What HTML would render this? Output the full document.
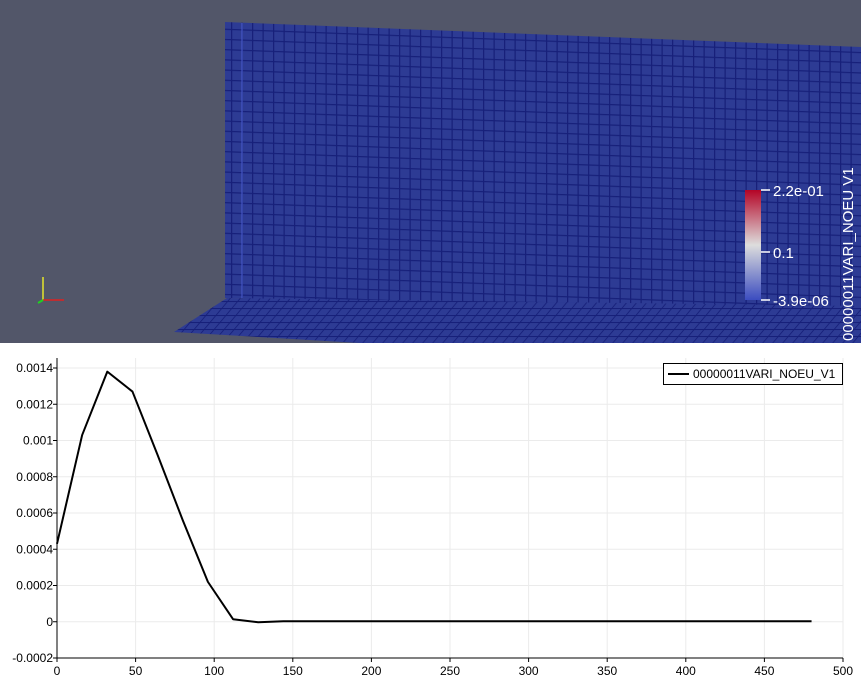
<!DOCTYPE html>
<html><head><meta charset="utf-8">
<style>
html,body{margin:0;padding:0;width:861px;height:686px;overflow:hidden;background:#fff;font-family:"Liberation Sans",sans-serif}
#view{position:absolute;left:0;top:0;width:861px;height:343px;background:#525669;overflow:hidden}
#chart{position:absolute;left:0;top:343px;width:861px;height:343px}
</style></head><body>
<div id="view">
<svg width="861" height="343">
<defs>
<pattern id="grid" width="10.5" height="10.2" patternUnits="userSpaceOnUse" patternTransform="skewY(2.1)">
<rect width="10.5" height="10.2" fill="#2d3b94"/>
<path d="M0 0.6H10.5M0.6 0V10.2" stroke="#17207a" stroke-width="1.3"/>
</pattern>
<pattern id="grid2" width="10" height="7" patternUnits="userSpaceOnUse" patternTransform="skewX(-40)">
<rect width="10" height="7" fill="#2d3b94"/>
<path d="M0 0.5H10M0.5 0V7" stroke="#17207a" stroke-width="1.3"/>
</pattern>
<linearGradient id="cbar" x1="0" y1="1" x2="0" y2="0">
<stop offset="0" stop-color="#3b4cc0"/><stop offset="0.5" stop-color="#dddddd"/><stop offset="1" stop-color="#b40426"/>
</linearGradient>
</defs>
<polygon points="225,22 861,47 861,310 225,298" fill="url(#grid)"/>
<polygon points="174,332 227,298 861,306 861,343 360,343" fill="url(#grid2)"/>
<line x1="242" y1="23" x2="242" y2="298" stroke="#4a5ed0" stroke-width="1"/>
<g>
<line x1="43" y1="300" x2="43" y2="277" stroke="#e5e52a" stroke-width="1.5"/>
<line x1="43" y1="300" x2="64" y2="300" stroke="#e02020" stroke-width="1.5"/>
<line x1="43" y1="300" x2="38" y2="303" stroke="#20d020" stroke-width="2"/>
</g>
<rect x="745" y="190" width="16" height="110" fill="url(#cbar)"/>
<g stroke="#fff" stroke-width="1.5"><line x1="761" y1="190" x2="770" y2="190"/><line x1="761" y1="252" x2="770" y2="252"/><line x1="761" y1="300" x2="770" y2="300"/></g>
<g fill="#fff" font-size="15">
<text x="773" y="196">2.2e-01</text>
<text x="773" y="258">0.1</text>
<text x="773" y="306">-3.9e-06</text>
<text transform="translate(853,341) rotate(-90)">00000011VARI_NOEU V1</text>
</g>
</svg>
</div>
<div id="chart">
<svg id="cs" width="861" height="343"></svg>
</div>
<script>
const xValues=[0,16,32,48,64,80,96,112,128,144,160,176,192,208,224,240,256,272,288,304,320,336,352,368,384,400,416,432,448,464,480];
const yValues=[0.00043,0.00103,0.00138,0.00127,0.00092,0.00056,0.00022,0.000014,-0.000003,0.000003,0.000003,0.000003,0.000003,0.000003,0.000003,0.000003,0.000003,0.000003,0.000003,0.000003,0.000003,0.000003,0.000003,0.000003,0.000003,0.000003,0.000003,0.000003,0.000003,0.000003,0.000003];
const xTicks=[0,50,100,150,200,250,300,350,400,450,500];
const yTicks=[-0.0002,0,0.0002,0.0004,0.0006,0.0008,0.001,0.0012,0.0014];
const yTickLabels=["-0.0002","0","0.0002","0.0004","0.0006","0.0008","0.001","0.0012","0.0014"];
const seriesName="00000011VARI_NOEU_V1";
const NS="http://www.w3.org/2000/svg";
const svg=document.getElementById('cs');
const X0=57,X1=843,Y0=315,Y1=25;
function sx(v){return X0+(v-0)/(500-0)*(X1-X0);}
function sy(v){return Y0-(v+0.0002)/(0.0016)*(Y0-Y1);}
function mk(t,a,p){const e=document.createElementNS(NS,t);for(const k in a)e.setAttribute(k,a[k]);(p||svg).appendChild(e);return e;}
xTicks.forEach(t=>{const l=mk('line',{x1:sx(t),x2:sx(t),y1:Y1-10,y2:Y0,stroke:'#ebebeb'});


const tk=mk('line',{x1:sx(t),x2:sx(t),y1:Y0,y2:Y0+4,stroke:'#000'});


const tx=mk('text',{x:sx(t),y:Y0+17,'text-anchor':'middle','font-size':'12',fill:'#000'});tx.textContent=t;

});
yTicks.forEach((t,i)=>{const l=mk('line',{x1:X0,x2:X1,y1:sy(t),y2:sy(t),stroke:'#ebebeb'});


const tk=mk('line',{x1:X0-4,x2:X0,y1:sy(t),y2:sy(t),stroke:'#000'});


const tx=mk('text',{x:X0-4,y:sy(t)+4,'text-anchor':'end','font-size':'12',fill:'#000'});tx.textContent=yTickLabels[i];

});
const ax=mk('path',{d:`M${X0} ${Y1-10}V${Y0}H${X1}`,stroke:'#000',fill:'none'});


const pl=mk('polyline',{points:xValues.map((x,i)=>sx(x)+','+sy(yValues[i])).join(' '),fill:'none',stroke:'#000','stroke-width':'2','stroke-linejoin':'round'});


const lg=mk('g',{});


mk('rect',{x:663.5,y:20.5,width:179,height:21,fill:'#fff',stroke:'#000'},lg);
mk('line',{x1:668,x2:689,y1:31,y2:31,stroke:'#000','stroke-width':2},lg);
const lt=mk('text',{x:693,y:35,'font-size':'12',fill:'#000'},lg);lt.textContent=seriesName;


</script>
</body></html>
